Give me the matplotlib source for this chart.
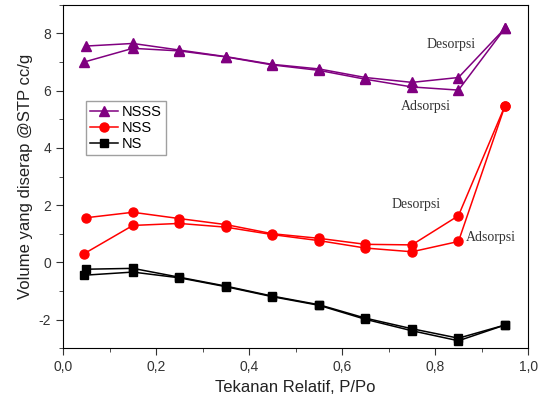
import matplotlib
matplotlib.use('Agg')
import matplotlib.pyplot as plt
from matplotlib.ticker import MultipleLocator, FuncFormatter

plt.rcParams['font.family'] = ['Liberation Sans', 'DejaVu Sans']

# relative pressure points
x_ads = [0.045, 0.15, 0.25, 0.35, 0.45, 0.55, 0.65, 0.75, 0.85, 0.95]
x_des = [0.05, 0.15, 0.25, 0.35, 0.45, 0.55, 0.65, 0.75, 0.85, 0.95]

# NSSS
nsss_ads = [7.00, 7.48, 7.39, 7.18, 6.90, 6.71, 6.40, 6.13, 6.02, 8.18]
nsss_des = [7.56, 7.65, 7.42, 7.19, 6.92, 6.76, 6.46, 6.29, 6.46, 8.18]
# NSS
nss_ads = [0.30, 1.29, 1.36, 1.23, 0.97, 0.76, 0.50, 0.37, 0.73, 5.47]
nss_des = [1.56, 1.75, 1.53, 1.32, 1.00, 0.84, 0.63, 0.61, 1.63, 5.47]
# NS
ns_ads = [-0.45, -0.34, -0.54, -0.85, -1.20, -1.50, -1.99, -2.39, -2.74, -2.19]
ns_des = [-0.24, -0.21, -0.52, -0.83, -1.18, -1.48, -1.95, -2.32, -2.65, -2.19]

fig = plt.figure(figsize=(5.39, 4.03), dpi=100)
ax = fig.add_axes([0.117, 0.136, 0.863, 0.852])

# NSSS
ax.plot(x_ads, nsss_ads, color='#800080', marker='^', ms=6.5, lw=1.1)
ax.plot(x_des, nsss_des, color='#800080', marker='^', ms=6.5, lw=1.1, label='NSSS')
# NSS
ax.plot(x_ads, nss_ads, color='red', marker='o', ms=6.5, lw=1.1)
ax.plot(x_des, nss_des, color='red', marker='o', ms=6.5, lw=1.1, label='NSS')
# NS
ax.plot(x_ads, ns_ads, color='black', marker='s', ms=5.5, lw=1.1)
ax.plot(x_des, ns_des, color='black', marker='s', ms=5.5, lw=1.1, label='NS')

# annotations
serif = dict(family=['Liberation Serif', 'DejaVu Serif'], fontsize=10, color='#333333',
             ha='center', va='center')
ax.text(0.834, 7.62, 'Desorpsi', **serif)
ax.text(0.78, 5.45, 'Adsorpsi', **serif)
ax.text(0.759, 2.03, 'Desorpsi', **serif)
ax.text(0.92, 0.87, 'Adsorpsi', **serif)

ax.set_xlim(0, 1.0)
ax.set_ylim(-3, 9)
ax.xaxis.set_major_locator(MultipleLocator(0.2))
ax.xaxis.set_minor_locator(MultipleLocator(0.1))
ax.yaxis.set_major_locator(MultipleLocator(2))
ax.yaxis.set_minor_locator(MultipleLocator(1))
ax.xaxis.set_major_formatter(FuncFormatter(lambda v, p: f'{v:.1f}'.replace('.', ',')))
ax.yaxis.set_major_formatter(FuncFormatter(lambda v, p: f'{v:.0f}'))
ax.tick_params(which='both', direction='out', labelsize=10, colors='#333333')
ax.tick_params(which='major', length=5)
ax.tick_params(which='minor', length=3)

ax.set_xlabel('Tekanan Relatif, P/Po', fontsize=12, color='#222222')
ax.set_ylabel('Volume yang diserap @STP cc/g', fontsize=12, color='#222222')

leg = ax.legend(loc='upper left', bbox_to_anchor=(0.05, 0.72), fontsize=10.5,
                fancybox=False, edgecolor='#888888', handlelength=1.9,
                borderpad=0.25, labelspacing=0.15, handletextpad=0.3,
                borderaxespad=0)

fig.savefig('out.png', dpi=100)
